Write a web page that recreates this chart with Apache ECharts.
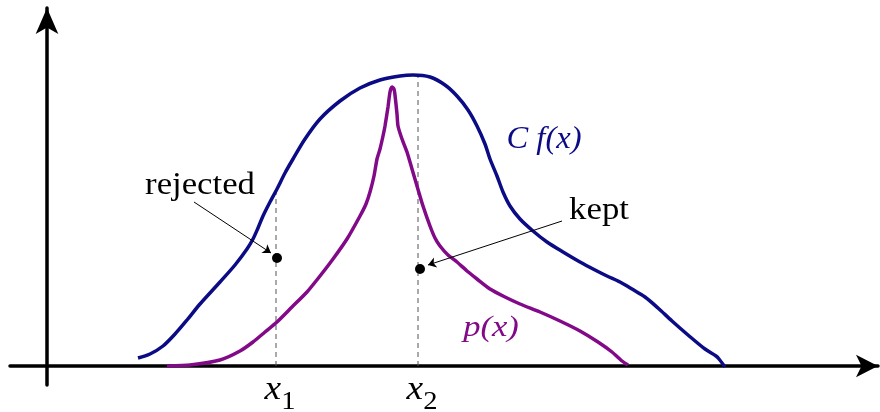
<!DOCTYPE html>
<html>
<head>
<meta charset="utf-8">
<script src="https://cdn.jsdelivr.net/npm/echarts@6/dist/echarts.min.js"></script>
<style>
  html, body { margin: 0; padding: 0; background: #fff; }
  #chart { width: 880px; height: 412px; }
</style>
</head>
<body>
<div id="chart"></div>
<script>
// envelope C f(x)
const cfx = [
  [91, 8], [103, 12], [116, 20], [128, 32], [140, 46], [153, 62], [173, 84],
  [188, 101], [200, 117], [206, 127], [211, 138], [216, 150], [223, 164],
  [230, 177], [238, 193], [246, 207], [258, 227], [273, 247], [293, 265],
  [313, 278], [333, 286], [353, 290], [366, 291], [383, 289], [398, 281],
  [410, 270], [421, 256], [430, 240], [438, 222], [443, 207], [450, 190],
  [456, 174], [463, 160], [473, 147], [486, 135], [500, 124], [516, 114],
  [533, 104], [548, 96], [560, 90], [573, 84], [585, 77], [598, 69],
  [611, 58], [625, 45], [641, 31], [658, 17], [669, 10], [672, 7], [678, -1]
];

// target density p(x)
const px = [
  [120, 0], [143, 1], [173, 6], [193, 15], [206, 24], [218, 34], [230, 44],
  [245, 59], [260, 74], [273, 90], [286, 107], [300, 127], [313, 150],
  [319, 162], [323, 174], [327, 190], [330, 207], [333, 217], [336, 230],
  [338, 240], [341, 259], [343, 274], [345, 279], [347, 277], [348, 271],
  [350, 252], [351, 240], [355, 227], [360, 214], [365, 197], [370, 180],
  [376, 160], [383, 140], [388, 128], [393, 120], [401, 111], [410, 104],
  [420, 95], [430, 87], [443, 77], [458, 69], [473, 62], [493, 54],
  [513, 45], [533, 35], [551, 24], [565, 14], [575, 5], [581, 1]
];

// sample positions and the two drawn points
const samples = [229, 371];
const points = [[230, 108], [373, 97]];
const arrows = [
  [[147, 164], [224, 113]],
  [[515, 145], [381, 101]]
];

const serif = '"Liberation Serif", "DejaVu Serif", serif';

var myChart = echarts.init(document.getElementById("chart"));

myChart.setOption({
  animation: false,
  grid: { left: 10, right: 2, top: 8, bottom: 27 },
  xAxis: {
    type: "value",
    min: -37,
    max: 831,
    axisLine: {
      onZero: true,
      symbol: ["none", "arrow"],
      symbolSize: [17, 22],
      lineStyle: { color: "#000", width: 3.5 },
    },
    axisTick: { show: false },
    axisLabel: { show: false },
    splitLine: { show: false },
  },
  yAxis: {
    type: "value",
    min: -19,
    max: 358,
    axisLine: {
      onZero: true,
      symbol: ["none", "arrow"],
      symbolSize: [17, 26],
      lineStyle: { color: "#000", width: 3.5 },
    },
    axisTick: { show: false },
    axisLabel: { show: false },
    splitLine: { show: false },
  },
  series: [
    {
      type: "line",
      data: [[samples[0], 0], [samples[0], cfx[13][1]]],
      showSymbol: false,
      lineStyle: { color: "#555", width: 1, type: [5, 4] },
      z: 1,
    },
    {
      type: "line",
      data: [[samples[1], 0], [samples[1], cfx[22][1]]],
      showSymbol: false,
      lineStyle: { color: "#555", width: 1, type: [5, 4] },
      z: 1,
    },
    {
      name: "Cf",
      type: "line",
      data: cfx,
      smooth: 0.3,
      showSymbol: false,
      lineStyle: { color: "#0b0b86", width: 3.5 },
      z: 3,
    },
    {
      name: "p",
      type: "line",
      data: px,
      smooth: 0.2,
      showSymbol: false,
      lineStyle: { color: "#820a88", width: 3.5 },
      z: 3,
    },
    {
      type: "scatter",
      data: points,
      symbolSize: 10,
      itemStyle: { color: "#000", opacity: 1 },
      z: 4,
    },
    {
      type: "lines",
      coordinateSystem: "cartesian2d",
      data: arrows.map((c) => ({ coords: c })),
      symbol: ["none", "arrow"],
      symbolSize: 8,
      lineStyle: { color: "#000", width: 1, opacity: 1 },
      z: 5,
    },
  ],
});

// text labels, placed in data units
const labels = [
  { at: [153, 180], text: "rejected", size: 31, color: "#000", sx: 1.12 },
  { at: [552, 155], text: "kept", size: 31, color: "#000", sx: 1.12 },
  { at: [497, 226], text: "C f(x)", size: 31, color: "#0b0b86", italic: true, sx: 1.05 },
  { at: [444, 38], text: "p(x)", size: 30, color: "#820a88", italic: true, sx: 1.15 },
];

const graphics = labels.map((l) => {
  const p = myChart.convertToPixel({ gridIndex: 0 }, l.at);
  return {
    type: "text",
    x: p[0],
    y: p[1],
    scaleX: l.sx,
    z: 10,
    style: {
      text: l.text,
      fontSize: l.size,
      fontFamily: serif,
      fontStyle: l.italic ? "italic" : "normal",
      fill: l.color,
      align: "center",
      verticalAlign: "middle",
    },
  };
});

samples.forEach((s, i) => {
  const p = myChart.convertToPixel({ gridIndex: 0 }, [s + 4, -28]);
  graphics.push({
    type: "text",
    x: p[0],
    y: p[1],
    scaleX: 1.1,
    z: 10,
    style: {
      text: "{x|x}{s|" + (i + 1) + "}",
      align: "center",
      verticalAlign: "middle",
      rich: {
        x: { fontSize: 34, fontFamily: serif, fontStyle: "italic", fill: "#000", verticalAlign: "bottom", padding: [0, 0, 8, 0] },
        s: { fontSize: 26, fontFamily: serif, fill: "#000", verticalAlign: "bottom" },
      },
    },
  });
});

myChart.setOption({ graphic: graphics });

window.addEventListener("resize", () => {
  myChart.resize();
});
</script>
</body>
</html>
